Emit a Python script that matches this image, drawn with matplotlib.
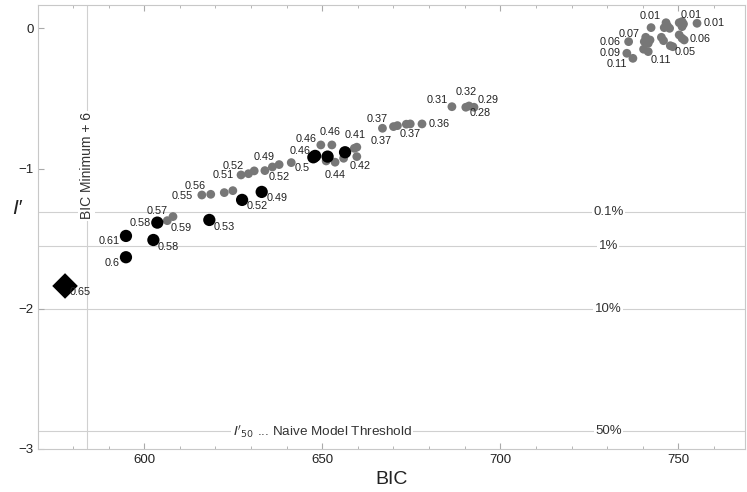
import matplotlib
matplotlib.use("Agg")
import matplotlib.pyplot as plt
from matplotlib.ticker import MultipleLocator

plt.rcParams['font.family'] = ['Liberation Sans', 'DejaVu Sans']

# black (best) models
bic_black = [594.9, 594.9, 603.7, 602.6, 618.3, 627.5, 633.0, 647.5, 648.0, 651.5, 656.4]
ip_black = [-1.48, -1.632, -1.385, -1.509, -1.366, -1.223, -1.166, -0.919, -0.909, -0.914, -0.883]
lab_black = ["0.61", "0.6", "0.58", "0.58", "0.53", "0.52", "0.49", "0.46", "0.5", "", ""]

# selected model (diamond)
bic_best = [577.8]
ip_best = [-1.837]
lab_best = ["0.65"]

# gray models
bic_gray = [606.5, 608.1, 616.2, 618.7, 622.5, 624.9, 627.2, 629.3, 630.9, 633.9,
            636.0, 637.9, 641.3, 649.6, 652.7, 651.1, 653.6, 656.0, 659.0, 659.7,
            659.7, 666.9, 670.0, 671.1, 673.6, 674.7, 678.0, 686.4, 690.3, 691.2,
            692.6,
            742.3, 746.5, 746.9, 746.0, 747.5, 750.2, 751.0, 751.4, 751.0, 755.2,
            736.0, 740.8, 740.4, 741.5, 742.0, 745.2, 745.8, 747.7, 748.4, 750.2,
            751.0, 751.6, 740.2, 741.5, 735.5, 737.2]
ip_gray = [-1.371, -1.342, -1.188, -1.183, -1.171, -1.157, -1.045, -1.036, -1.016, -1.014,
           -0.988, -0.971, -0.957, -0.831, -0.831, -0.945, -0.954, -0.926, -0.855, -0.847,
           -0.914, -0.712, -0.700, -0.693, -0.683, -0.681, -0.681, -0.558, -0.562, -0.553,
           -0.562,
           0.006, 0.041, 0.018, 0.006, 0.001, 0.041, 0.049, 0.032, 0.013, 0.037,
           -0.094, -0.063, -0.094, -0.106, -0.082, -0.063, -0.087, -0.123, -0.130, -0.046,
           -0.070, -0.082, -0.148, -0.165, -0.177, -0.213]
lab_gray = ["0.59", "0.57", "0.55", "0.56", "", "", "0.51", "0.52", "", "0.49",
            "", "0.52", "", "0.46", "0.46", "", "0.44", "", "", "0.41",
            "0.42", "0.37", "0.37", "", "0.37", "", "0.36", "0.31", "0.32", "0.28",
            "0.29",
            "0.01", "", "", "", "", "", "", "0.01", "", "0.01",
            "0.06", "0.07", "", "", "", "", "", "", "0.05", "",
            "", "0.06", "", "0.11", "0.09", "0.11"]

# thresholds
thr_vals = [-1.31, -1.555, -2.0, -2.875]
thr_labels = ["0.1%", "1%", "10%", "50%"]
bic_min_line = 583.9

# label offsets in pixels (dx, dy), style only
off_black = [(-17, -5), (-14, -6), (-17, 0), (15, -7), (15, -7), (15, -6), (15, -6),
             (-13, 6), (-13, -12), None, None]
off_best = [(15, -6)]
off_gray = [(14, -7), (-16, 6), (-20, -1), (-16, 8), None, None, (-18, 0), (-15, 8), None, (-1, 14),
            None, (0, -12), None, (-15, 6), (-2, 13), None, (0, -13), None, None, (-2, 12),
            (3, -9), (-5, 9), (-12, -14), None, (4, -10), None, (17, 0), (-15, 7), (0, 15), (11, -7),
            (14, 7),
            (-1, 12), None, None, None, None, None, None, (8, 9), None, (17, 0),
            (-18, 0), (-17, 3), None, None, None, None, None, None, (12, -5), None,
            None, (16, 1), None, (13, -8), (-17, 0), (-16, -6)]

fig = plt.figure(figsize=(7.47, 4.92), dpi=100)
ax = fig.add_axes([0.0513, 0.0874, 0.9457, 0.9026])

line_c = "#d0d0d0"
for v, t in zip(thr_vals, thr_labels):
    ax.axhline(v, color=line_c, lw=0.8, zorder=1)
    ax.text(730.3, v, t, ha="center", va="center", fontsize=9.5, color="#333333",
            bbox=dict(facecolor="white", edgecolor="none", pad=1), zorder=2)
ax.text(650, thr_vals[-1], r"$I'_{50}$ ... Naive Model Threshold", ha="center", va="center",
        fontsize=9.7, color="#333333",
        bbox=dict(facecolor="white", edgecolor="none", pad=1), zorder=2)

ax.axvline(bic_min_line, color=line_c, lw=0.8, zorder=1)
ax.text(bic_min_line, -0.98, "BIC Minimum + 6", rotation=90, ha="center", va="center",
        fontsize=10, color="#333333",
        bbox=dict(facecolor="white", edgecolor="none", pad=1), zorder=2)

ax.scatter(bic_gray, ip_gray, s=40, color="#777777", edgecolors="none", zorder=3)
ax.scatter(bic_black, ip_black, s=78, color="black", edgecolors="none", zorder=4)
ax.scatter(bic_best, ip_best, s=170, marker="D", color="black", edgecolors="none", zorder=4)

for xs, ys, labs, offs in [(bic_gray, ip_gray, lab_gray, off_gray),
                           (bic_black, ip_black, lab_black, off_black),
                           (bic_best, ip_best, lab_best, off_best)]:
    for x, y, lab, o in zip(xs, ys, labs, offs):
        if lab and o is not None:
            ax.annotate(lab, (x, y), xytext=o, textcoords="offset pixels",
                        ha="center", va="center", fontsize=7.8, color="#222222", zorder=5)

ax.set_xlim(570.3, 768.6)
ax.set_ylim(-3, 0.168)
ax.set_xticks([600, 650, 700, 750])
ax.set_yticks([0, -1, -2, -3])
ax.set_yticklabels(["0", "\u22121", "\u22122", "\u22123"])
ax.xaxis.set_minor_locator(MultipleLocator(10))
ax.tick_params(which="both", direction="in", top=True, color="#aaaaaa",
               labelsize=9.5, labelcolor="#222222")
ax.tick_params(which="major", length=4)
ax.tick_params(which="minor", length=2)
for s in ax.spines.values():
    s.set_color("#c8c8c8")

ax.set_xlabel("BIC", fontsize=14, color="#222222", labelpad=4)
ax.set_ylabel("I\u2032", fontsize=15, style="italic", rotation=0, color="#222222", labelpad=10)
ax.yaxis.set_label_coords(-0.03, 0.52)

fig.savefig("out.png", dpi=100)
